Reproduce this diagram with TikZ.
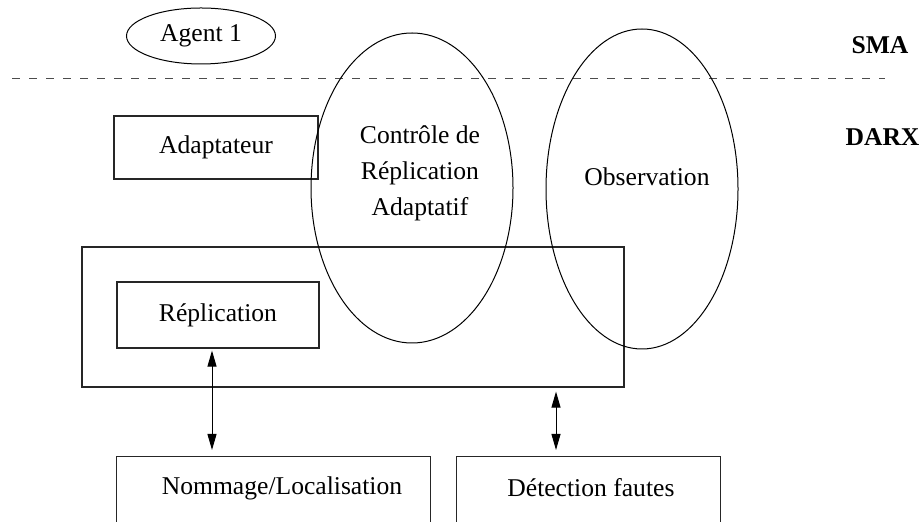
\documentclass[tikz,border=0pt]{standalone}
\usepackage{fontspec}
\setmainfont{Liberation Serif}
\usetikzlibrary{shapes.geometric,arrows.meta}

\begin{document}
\begin{tikzpicture}[
  x=0.5pt, y=-0.5pt,
  every node/.style={font=\fontsize{12.8}{18}\selectfont, inner sep=0pt},
  bloc/.style={draw=black!85, line width=0.6pt, rectangle},
  bulle/.style={draw, ellipse, line width=0.5pt},
  couche/.style={font=\fontsize{12.8}{15}\selectfont\bfseries},
  fleche/.style={{Triangle[length=8pt,width=4.5pt]}-{Triangle[length=8pt,width=4.5pt]}, line width=0.5pt}
]
  \useasboundingbox (0,0) rectangle (920,522);
  \clip (0,0) rectangle (920,522);

  % Niveau SMA
  \node[bulle, minimum width=74.5pt, minimum height=28pt] (agent) at (201,36) {Agent 1};
  \draw[dash pattern=on 4pt off 4.5pt, line width=0.5pt, black!70] (12,79) -- (885,79);
  \node[couche] (sma) at (880,45) {SMA};
  \node[couche] (darx) at (882.5,137) {DARX};

  % Boites DARX
  \node[bloc, minimum width=102pt, minimum height=31.5pt] (adapt) at (216,147.5) {Adaptateur};
  \node[bloc, minimum width=271pt, minimum height=70pt] (noyau) at (353,317) {};
  \node[bloc, minimum width=101pt, minimum height=33pt] (repli) at (218,315) {Réplication};

  % Ellipses
  \node[bulle, minimum width=101pt, minimum height=155pt] (controle) at (412,188) {};
  \node[align=center] (controletxt) at (420,173) {Contrôle de\\Réplication\\Adaptatif};
  \node[bulle, minimum width=96pt, minimum height=160pt] (observ) at (642,189) {};
  \node (observtxt) at (647,177) {Observation};

  % Services du bas
  \node[bloc, anchor=north west, minimum width=157pt, minimum height=60pt] (nombox) at (116,456) {};
  \node (nommage) at (282,488) {Nommage/Localisation};
  \node[bloc, anchor=north west, minimum width=132pt, minimum height=60pt] (detbox) at (456,456) {};
  \node[anchor=west] (detection) at (507,488) {Détection fautes};

  % Fleches
  \coordinate (gauche) at (212,0);
  \coordinate (droite) at (556,0);
  \draw[fleche, shorten <=1pt, shorten >=3pt] (repli.south -| gauche) -- (nombox.north -| gauche);
  \draw[fleche, shorten <=2pt, shorten >=3pt] (noyau.south -| droite) -- (detbox.north -| droite);
\end{tikzpicture}
\end{document}
